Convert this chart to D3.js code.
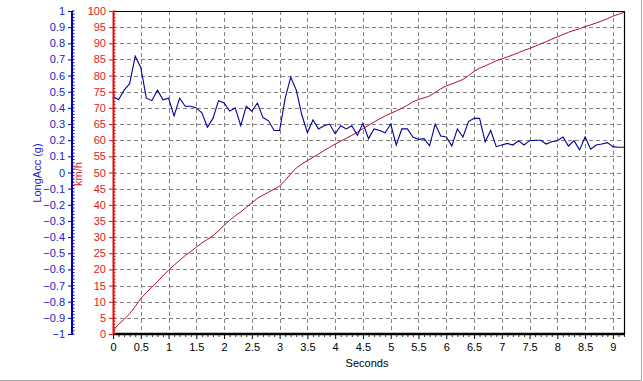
<!DOCTYPE html>
<html>
<head>
<meta charset="utf-8">
<script src="https://cdn.jsdelivr.net/npm/d3@7"></script>
<style>
  html, body { margin: 0; padding: 0; background: #fff; }
  svg { display: block; }
  text { font-family: "Liberation Sans", Arial, sans-serif; font-size: 11px; }
</style>
</head>
<body>
<svg id="chart" width="643" height="381"></svg>
<script>
// ---- data ----
const seconds = [0,0.1,0.2,0.3,0.4,0.5,0.6,0.7,0.8,0.9,1,1.1,1.2,1.3,1.4,1.5,1.6,1.7,1.8,1.9,2,2.1,2.2,2.3,2.4,2.5,2.6,2.7,2.8,2.9,3,3.1,3.2,3.3,3.4,3.5,3.6,3.7,3.8,3.9,4,4.1,4.2,4.3,4.4,4.5,4.6,4.7,4.8,4.9,5,5.1,5.2,5.3,5.4,5.5,5.6,5.7,5.8,5.9,6,6.1,6.2,6.3,6.4,6.5,6.6,6.7,6.8,6.9,7,7.1,7.2,7.3,7.4,7.5,7.6,7.7,7.8,7.9,8,8.1,8.2,8.3,8.4,8.5,8.6,8.7,8.8,8.9,9,9.1,9.2];
const longAcc = [0.47,0.45,0.51,0.55,0.72,0.65,0.46,0.445,0.51,0.45,0.46,0.35,0.46,0.41,0.41,0.40,0.37,0.28,0.335,0.445,0.43,0.38,0.40,0.29,0.41,0.38,0.43,0.34,0.32,0.26,0.26,0.46,0.59,0.51,0.356,0.246,0.325,0.27,0.29,0.30,0.24,0.29,0.27,0.29,0.23,0.305,0.21,0.27,0.26,0.246,0.30,0.17,0.27,0.27,0.22,0.205,0.21,0.165,0.30,0.226,0.22,0.165,0.27,0.22,0.315,0.335,0.335,0.19,0.26,0.16,0.17,0.18,0.17,0.197,0.17,0.197,0.20,0.20,0.176,0.19,0.197,0.22,0.164,0.197,0.14,0.22,0.144,0.17,0.176,0.185,0.16,0.156,0.156];
const speedKmh = [1,3,4.5,6.3,8.5,11,12.8,14.5,16.2,18,19.8,21.3,22.8,24.3,25.5,26.9,28.2,29.3,30.4,32,33.6,35.2,36.6,37.8,39.2,40.6,42,43,43.9,44.8,45.8,47.6,49.6,51.4,52.6,53.7,54.7,55.7,56.8,57.8,58.8,59.7,60.6,61.5,62.5,63.6,64.6,65.6,66.6,67.5,68.3,69.1,69.9,70.8,71.9,72.6,73.1,73.7,74.8,75.9,76.8,77.4,78.1,78.8,80,81.3,82.3,83,83.8,84.6,85.2,85.8,86.4,87.1,87.8,88.4,89.1,89.8,90.5,91.3,92,92.7,93.4,94,94.5,95.2,95.7,96.3,96.9,97.6,98.4,99,99.6];
const xTicks = [0,0.5,1,1.5,2,2.5,3,3.5,4,4.5,5,5.5,6,6.5,7,7.5,8,8.5,9];
const accTicks = [-1,-0.9,-0.8,-0.7,-0.6,-0.5,-0.4,-0.3,-0.2,-0.1,0,0.1,0.2,0.3,0.4,0.5,0.6,0.7,0.8,0.9,1];
const kmhTicks = [0,5,10,15,20,25,30,35,40,45,50,55,60,65,70,75,80,85,90,95,100];

// ---- layout ----
const L = 113, R = 624, T = 11, B = 334;
const svg = d3.select("#chart");
const x = d3.scaleLinear().domain([0, 9.2]).range([L, R]);
const yK = d3.scaleLinear().domain([0, 100]).range([B, T]);
const yA = d3.scaleLinear().domain([-1, 1]).range([B, T]);

const BLUE_TXT = "#2020c8", BLUE_AX = "#0000b8", RED_TXT = "#e02020", RED_AX = "#e01010";

// window frame
svg.append("line").attr("x1", 641.5).attr("x2", 641.5).attr("y1", 0).attr("y2", 380.5).attr("stroke", "#a8a8a8");
svg.append("line").attr("x1", 0).attr("x2", 641.5).attr("y1", 380.5).attr("y2", 380.5).attr("stroke", "#a8a8a8");

// grid
const grid = svg.append("g").attr("stroke", "#808080").attr("stroke-width", 1).attr("stroke-dasharray", "4,3");
grid.selectAll(".gx").data(xTicks.filter(d => d > 0)).join("line")
  .attr("x1", d => Math.round(x(d)) + 0.5).attr("x2", d => Math.round(x(d)) + 0.5)
  .attr("y1", T).attr("y2", B);
grid.selectAll(".gy").data(kmhTicks.filter(d => d > 0 && d < 100)).join("line")
  .attr("x1", L).attr("x2", R)
  .attr("y1", d => Math.round(yK(d)) + 0.5).attr("y2", d => Math.round(yK(d)) + 0.5);

// plot border (top/right)
svg.append("path").attr("d", `M${L},${T + 0.5}H${R + 0.5}V${B}`).attr("fill", "none").attr("stroke", "#000").attr("stroke-width", 1.2);

// lines
const lineK = d3.line().x((d, i) => x(seconds[i])).y(d => yK(d));
const lineA = d3.line().x((d, i) => x(seconds[i])).y(d => yA(d));
svg.append("path").datum(speedKmh).attr("d", lineK).attr("fill", "none").attr("stroke", "#b0102a").attr("stroke-width", 1);
svg.append("path").datum(longAcc).attr("d", lineA).attr("fill", "none").attr("stroke", "#00009a").attr("stroke-width", 1.1);

// x axis
const xAx = svg.append("g").attr("transform", `translate(0,${B})`)
  .call(d3.axisBottom(x).tickValues(xTicks).tickSize(5).tickPadding(4).tickFormat(d3.format("")));
xAx.select(".domain").remove();
xAx.selectAll("text").attr("font-size", 11).attr("fill", "#000").style("font-family", "Liberation Sans, Arial, sans-serif");
xAx.selectAll(".tick line").attr("stroke", "#000");
const xMinor = d3.axisBottom(x).tickValues(seconds.filter(s => xTicks.indexOf(s) < 0)).tickSize(3).tickFormat("");
const xm = svg.append("g").attr("transform", `translate(0,${B})`).call(xMinor);
xm.select(".domain").remove();
xm.selectAll(".tick line").attr("stroke", "#333");
svg.append("line").attr("x1", L).attr("x2", R + 1).attr("y1", B).attr("y2", B).attr("stroke", "#000").attr("stroke-width", 2.4);

// red (km/h) axis
const kAx = svg.append("g").attr("transform", `translate(${L},0)`)
  .call(d3.axisLeft(yK).tickValues(kmhTicks).tickSize(4).tickPadding(3).tickFormat(d3.format("")));
kAx.select(".domain").remove();
kAx.selectAll(".tick line").attr("stroke", RED_AX);
kAx.selectAll("text").attr("fill", RED_TXT).attr("font-size", 11).style("font-family", "Liberation Sans, Arial, sans-serif");
const kMinorVals = d3.range(0, 101, 1);
svg.append("g").selectAll("line").data(kMinorVals).join("line")
  .attr("x1", L).attr("x2", L + 2.5).attr("y1", d => yK(d)).attr("y2", d => yK(d))
  .attr("stroke", RED_AX).attr("stroke-width", 1);
svg.append("line").attr("x1", L + 0.5).attr("x2", L + 0.5).attr("y1", T).attr("y2", B).attr("stroke", RED_AX).attr("stroke-width", 2);

// blue (g) axis
const AX = 72;
const aAx = svg.append("g").attr("transform", `translate(${AX},0)`)
  .call(d3.axisLeft(yA).tickValues(accTicks).tickSize(4).tickPadding(3).tickFormat(d => d3.format("")(+d.toFixed(1))));
aAx.select(".domain").remove();
aAx.selectAll(".tick line").attr("stroke", BLUE_AX);
aAx.selectAll("text").attr("fill", BLUE_TXT).attr("font-size", 11).style("font-family", "Liberation Sans, Arial, sans-serif");
svg.append("g").selectAll("line").data(d3.range(-1, 1.0001, 0.02)).join("line")
  .attr("x1", AX).attr("x2", AX + 2.5).attr("y1", d => yA(d)).attr("y2", d => yA(d))
  .attr("stroke", BLUE_AX).attr("stroke-width", 1);
svg.append("line").attr("x1", AX).attr("x2", AX).attr("y1", T).attr("y2", B + 1).attr("stroke", BLUE_AX).attr("stroke-width", 2);

// axis titles
svg.append("text").attr("transform", "translate(41,173) rotate(-90)").attr("text-anchor", "middle")
  .attr("fill", BLUE_TXT).text("LongAcc (g)");
svg.append("text").attr("transform", "translate(82,174) rotate(-90)").attr("text-anchor", "middle")
  .attr("fill", RED_TXT).text("km/h");
svg.append("text").attr("x", 367).attr("y", 367).attr("text-anchor", "middle").attr("fill", "#000").text("Seconds");
</script>
</body>
</html>
